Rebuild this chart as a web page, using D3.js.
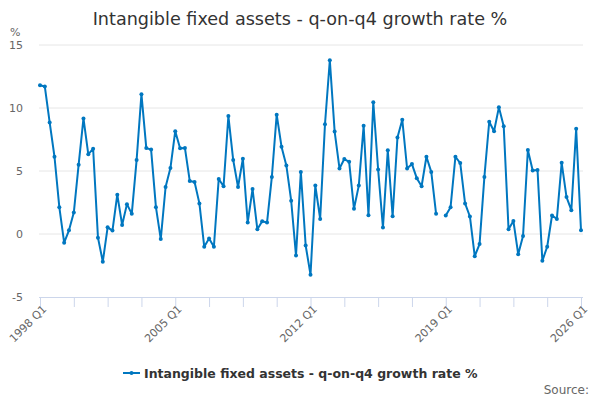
<!DOCTYPE html>
<html>
<head>
<meta charset="utf-8">
<style>
  body { margin: 0; background: #fff; }
  text { font-family: "DejaVu Sans", sans-serif; }
</style>
</head>
<body>
<div id="chart"></div>
<script src="https://cdnjs.cloudflare.com/ajax/libs/d3/7.8.5/d3.min.js"></script>
<script>
const width = 600;
const height = 400;
const margin = {top: 45, right: 19, bottom: 103, left: 40};

const title = "Intangible fixed assets - q-on-q4 growth rate %";
const seriesName = "Intangible fixed assets - q-on-q4 growth rate %";

// quarterly values, 1998 Q1 .. 2026 Q1 (null = missing quarter)
const growth = [
  11.8, 11.7, 8.85, 6.13, 2.13, -0.69, 0.29, 1.7, 5.5, 9.17,
  6.32, 6.77, -0.29, -2.2, 0.53, 0.27, 3.12, 0.72, 2.37, 1.6,
  5.87, 11.1, 6.83, 6.7, 2.13, -0.4, 3.73, 5.23, 8.16, 6.8,
  6.83, 4.21, 4.13, 2.43, -1.01, -0.35, -1.01, 4.37, 3.79, 9.36,
  5.87, 3.73, 5.97, 0.91, 3.57, 0.37, 1.01, 0.91, 4.53, 9.47,
  6.93, 5.44, 2.64, -1.71, 4.93, -0.91, -3.23, 3.84, 1.2, 8.72,
  13.79, 8.13, 5.2, 5.95, 5.73, 2.0, 3.84, 8.59, 1.49, 10.45,
  5.12, 0.51, 6.64, 1.41, 7.65, 9.07, 5.2, 5.55, 4.43, 3.79,
  6.13, 4.93, 1.6, null, 1.47, 2.13, 6.13, 5.63, 2.43, 1.39,
  -1.76, -0.8, 4.53, 8.91, 8.16, 10.05, 8.56, 0.37, 1.04, -1.6,
  -0.16, 6.67, 5.04, 5.07, -2.13, -1.01, 1.47, 1.2, 5.65, 2.93,
  1.89, 8.35, 0.29
];
const startYear = 1998;
const quarters = growth.map((d, i) => `${startYear + Math.floor(i / 4)} Q${i % 4 + 1}`);
const yTicks = [-5, 0, 5, 10, 15];

const svg = d3.select("#chart").append("svg")
    .attr("width", width)
    .attr("height", height);

const x = d3.scaleLinear()
    .domain([0, growth.length - 1])
    .range([margin.left, width - margin.right]);

const y = d3.scaleLinear()
    .domain([-5, 15])
    .range([height - margin.bottom, margin.top]);

// title
svg.append("text")
    .attr("x", width / 2)
    .attr("y", 25)
    .attr("text-anchor", "middle")
    .attr("fill", "#333")
    .style("font-size", "17.6px")
    .text(title);

// gridlines
svg.append("g")
  .selectAll("line")
  .data(yTicks.filter(d => d !== -5))
  .join("line")
    .attr("x1", margin.left - 1)
    .attr("x2", width - margin.right + 2)
    .attr("y1", d => y(d))
    .attr("y2", d => y(d))
    .attr("stroke", "#e6e6e6")
    .attr("stroke-width", 1);

// y labels
svg.append("g")
  .selectAll("text")
  .data(yTicks)
  .join("text")
    .attr("x", 23)
    .attr("y", d => y(d) + 4)
    .attr("text-anchor", "end")
    .attr("fill", "#666")
    .style("font-size", "11px")
    .text(d => d);

svg.append("text")
    .attr("x", 10)
    .attr("y", 36)
    .attr("fill", "#666")
    .style("font-size", "11px")
    .text("%");

// x axis
const xAxis = d3.axisBottom(x)
    .tickValues(d3.range(0, growth.length, 7))
    .tickSize(10)
    .tickFormat(i => i % 28 === 0 ? quarters[i] : "");

const gx = svg.append("g")
    .attr("transform", `translate(0,${y(-5)})`)
    .call(xAxis);
gx.select(".domain")
    .attr("stroke", "#ccd6eb")
    .attr("d", `M${margin.left - 1},0.5H${width - margin.right + 2}`);
gx.selectAll(".tick line").attr("stroke", "#ccd6eb");
gx.selectAll(".tick text")
    .attr("fill", "#666")
    .style("font-size", "11px")
    .style("font-family", "'DejaVu Sans', sans-serif")
    .attr("text-anchor", "end")
    .attr("transform", "translate(4,10) rotate(-45)")
    .attr("dy", "0.35em")
    .attr("y", 0);

// series
const colour = "#0077c0";
const line = d3.line()
    .defined(d => d !== null)
    .x((d, i) => x(i))
    .y(d => y(d));

svg.append("path")
    .datum(growth)
    .attr("fill", "none")
    .attr("stroke", colour)
    .attr("stroke-width", 2)
    .attr("stroke-linejoin", "round")
    .attr("d", line);

svg.append("g")
  .selectAll("circle")
  .data(growth.map((v, i) => ({v, i})).filter(d => d.v !== null))
  .join("circle")
    .attr("cx", d => x(d.i))
    .attr("cy", d => y(d.v))
    .attr("r", 2)
    .attr("fill", colour);

// legend
const lg = svg.append("g").attr("transform", "translate(123,373)");
lg.append("line")
    .attr("x1", 0).attr("x2", 17)
    .attr("stroke", colour).attr("stroke-width", 2);
lg.append("circle").attr("cx", 8.5).attr("r", 2).attr("fill", colour);
lg.append("text")
    .attr("x", 21)
    .attr("y", 4.5)
    .attr("fill", "#333")
    .style("font-size", "12.5px")
    .style("font-weight", "bold")
    .text(seriesName);

svg.append("text")
    .attr("x", 589)
    .attr("y", 394)
    .attr("text-anchor", "end")
    .attr("fill", "#666")
    .style("font-size", "12px")
    .text("Source:");
</script>
</body>
</html>
